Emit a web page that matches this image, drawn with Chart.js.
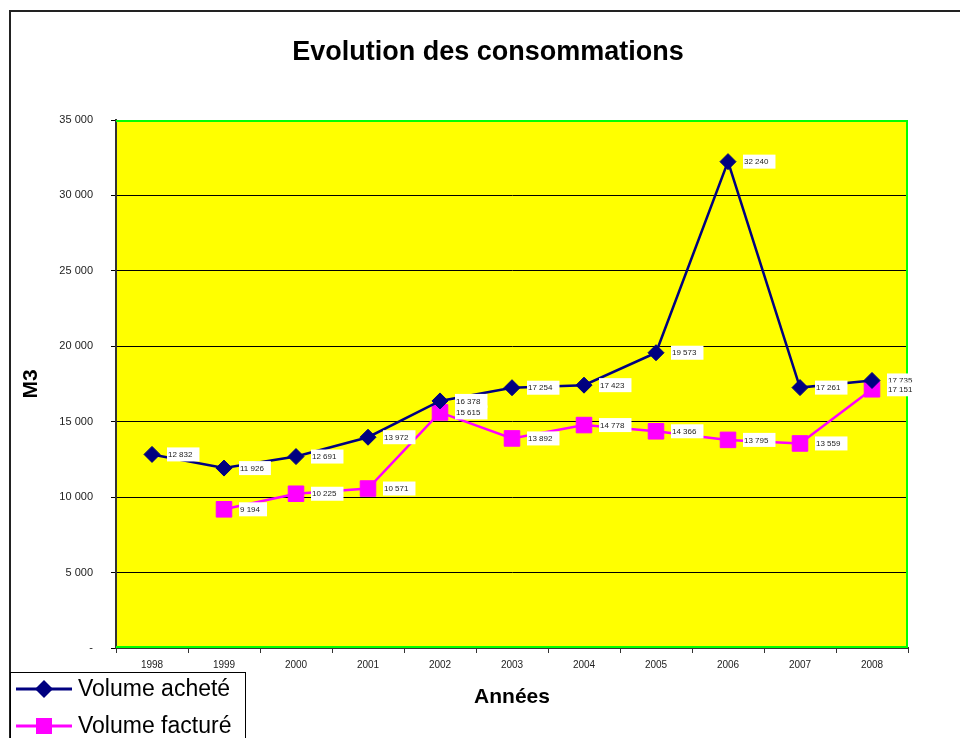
<!DOCTYPE html>
<html>
<head>
<meta charset="utf-8">
<script src="https://cdn.jsdelivr.net/npm/chart.js"></script>
<style>
  html, body { margin: 0; padding: 0; background: #fff; }
  #wrap { width: 960px; height: 738px; }
</style>
</head>
<body>
<div id="wrap"><canvas id="consoChart" width="960" height="738"></canvas></div>
<script>
// ---- data ----
const years = ["1998","1999","2000","2001","2002","2003","2004","2005","2006","2007","2008"];
const volumeAchete  = [12832, 11926, 12691, 13972, 16378, 17254, 17423, 19573, 32240, 17261, 17735];
const volumeFacture = [null, 9194, 10225, 10571, 15615, 13892, 14778, 14366, 13795, 13559, 17151];
const seriesNames = ["Volume acheté", "Volume facturé"];
const titleText = "Evolution des consommations";

const NAVY = "#000080", PINK = "#FF00FF";

// "12 832" style
function fmt(v) {
  if (v === 0) return "-";
  return String(v).replace(/\B(?=(\d{3})+(?!\d))/g, " ");
}

// fond jaune + cadre vert du graphique
const plotArea = {
  id: "plotArea",
  beforeDraw(chart) {
    const { ctx, chartArea: a } = chart;
    ctx.save();
    ctx.fillStyle = "#FFFF00";
    ctx.fillRect(a.left, a.top, a.right - a.left, a.bottom - a.top);
    ctx.restore();
  },
  beforeDatasetsDraw(chart) {
    const { ctx, chartArea: a } = chart;
    ctx.save();
    ctx.strokeStyle = "#00FF00";
    ctx.lineWidth = 2;
    ctx.beginPath();
    ctx.moveTo(a.left, a.top + 1);
    ctx.lineTo(a.right - 1, a.top + 1);
    ctx.lineTo(a.right - 1, a.bottom - 1);
    ctx.lineTo(a.left, a.bottom - 1);
    ctx.stroke();
    ctx.restore();
  }
};

// étiquettes de valeur (boîtes blanches)
const valueLabels = {
  id: "valueLabels",
  afterDatasetsDraw(chart) {
    const { ctx } = chart;
    ctx.save();
    ctx.font = "8px Arial, 'Liberation Sans', sans-serif";
    ctx.textBaseline = "middle";
    chart.data.datasets.forEach((ds, i) => {
      const meta = chart.getDatasetMeta(i);
      meta.data.forEach((pt, j) => {
        const v = ds.data[j];
        if (v == null) return;
        const txt = fmt(v);
        const tw = ctx.measureText(txt).width;
        const x = pt.x + 15, y = pt.y;
        ctx.fillStyle = "#fff";
        ctx.fillRect(x, y - 7, tw + 8, 14);
        ctx.fillStyle = "#222";
        ctx.fillText(txt, x + 1, y + 0.5);
      });
    });
    ctx.restore();
  }
};

// titre, cadre extérieur, légende
const decor = {
  id: "decor",
  afterDraw(chart) {
    const { ctx } = chart;
    ctx.save();
    // cadre
    ctx.strokeStyle = "#222";
    ctx.lineWidth = 2;
    ctx.beginPath();
    ctx.moveTo(10, 740);
    ctx.lineTo(10, 11);
    ctx.lineTo(962, 11);
    ctx.stroke();

    // titre
    ctx.fillStyle = "#000";
    ctx.font = "bold 27px Arial, 'Liberation Sans', sans-serif";
    ctx.textAlign = "center";
    ctx.textBaseline = "middle";
    ctx.fillText(titleText, 488, 53);

    // légende
    ctx.fillStyle = "#fff";
    ctx.fillRect(10, 672, 235, 70);
    ctx.strokeStyle = "#000";
    ctx.lineWidth = 1;
    ctx.strokeRect(10.5, 672.5, 235, 70);
    const rows = [689, 726];
    chart.data.datasets.forEach((ds, i) => {
      const y = rows[i];
      ctx.strokeStyle = ds.borderColor;
      ctx.lineWidth = 3;
      ctx.beginPath();
      ctx.moveTo(16, y);
      ctx.lineTo(72, y);
      ctx.stroke();
      ctx.fillStyle = ds.pointBackgroundColor;
      ctx.beginPath();
      if (ds.pointStyle === "rectRot") {
        ctx.moveTo(44 - 9, y); ctx.lineTo(44, y - 9); ctx.lineTo(44 + 9, y); ctx.lineTo(44, y + 9);
        ctx.closePath();
      } else {
        ctx.rect(44 - 8, y - 8, 16, 16);
      }
      ctx.fill();
      ctx.fillStyle = "#000";
      ctx.font = "23px Arial, 'Liberation Sans', sans-serif";
      ctx.textAlign = "left";
      ctx.fillText(ds.label, 78, y + 1);
    });
    ctx.restore();
  }
};

const ctx = document.getElementById("consoChart").getContext("2d");
const consoChart = new Chart(ctx, {
  type: "line",
  data: {
    labels: years,
    datasets: [
      { label: seriesNames[0], data: volumeAchete, borderColor: NAVY, backgroundColor: NAVY,
        pointBackgroundColor: NAVY, pointBorderColor: NAVY, borderWidth: 2.5,
        pointStyle: "rectRot", pointRadius: 8, pointBorderWidth: 1, tension: 0 },
      { label: seriesNames[1], data: volumeFacture, borderColor: PINK, backgroundColor: PINK,
        pointBackgroundColor: PINK, pointBorderColor: PINK, borderWidth: 2.5,
        pointStyle: "rect", pointRadius: 11, pointBorderWidth: 1, tension: 0 },
    ],
  },
  options: {
    responsive: false,
    animation: false,
    layout: { padding: { left: 0, top: 120, right: 52, bottom: 0 } },
    plugins: {
      legend: { display: false },
      title: { display: false },
      tooltip: { enabled: false },
    },
    scales: {
      x: {
        offset: true,
        grid: { offset: true, drawOnChartArea: false, drawTicks: true, tickLength: 5, color: "#333" },
        border: { color: "#333", width: 2 },
        ticks: { color: "#222", font: { family: "Arial", size: 10 }, padding: 6, maxRotation: 0, autoSkip: false },
        title: { display: true, text: "Années", color: "#000", font: { family: "Arial", size: 21, weight: "bold" }, padding: { bottom: 28 } },
        afterFit(s) { s.height = 90; },
      },
      y: {
        min: 0, max: 35000,
        grid: { color: "#000", lineWidth: 1, tickLength: 5 },
        border: { color: "#333", width: 2 },
        ticks: { stepSize: 5000, color: "#222", font: { family: "Arial", size: 11 }, padding: 18, callback: (v) => fmt(v) },
        title: { display: true, text: "M3", color: "#000", font: { family: "Arial", size: 21, weight: "bold" }, padding: { top: 19 } },
        afterFit(s) { s.width = 116; },
      },
    },
  },
  plugins: [plotArea, valueLabels, decor],
});
</script>
</body>
</html>
